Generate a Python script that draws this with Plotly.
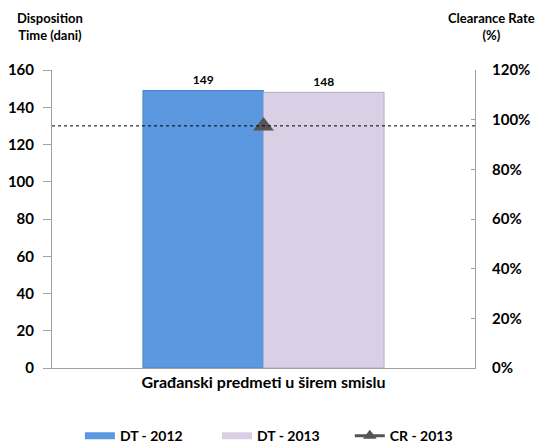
import plotly.graph_objects as go

categories = ["Građanski predmeti u širem smislu"]
dt_2012 = [149]
dt_2013 = [148]
cr_2013 = [97.5]

left_ticks = [0, 20, 40, 60, 80, 100, 120, 140, 160]
right_ticks = [0, 20, 40, 60, 80, 100, 120]
right_labels = [f"{v}%" for v in right_ticks]

FONT = "Lato"
BLUE = "#5b98df"
LAV = "#d9d0e6"
GRAY = "#555555"

fig = go.Figure()
fig.add_trace(go.Bar(
    name="DT - 2012", x=categories, y=dt_2012, showlegend=False,
    marker=dict(color=BLUE, line=dict(color="#4a84c6", width=1)),
    text=[str(v) for v in dt_2012], textposition="outside",
    textfont=dict(family=FONT, size=12, color="#000000", weight="bold"),
    cliponaxis=False,
))
fig.add_trace(go.Bar(
    name="DT - 2013", x=categories, y=dt_2013, showlegend=False,
    marker=dict(color=LAV, line=dict(color="#b5adc2", width=1)),
    text=[str(v) for v in dt_2013], textposition="outside",
    textfont=dict(family=FONT, size=12, color="#000000", weight="bold"),
    cliponaxis=False,
))
fig.add_trace(go.Scatter(
    name="CR - 2013", x=categories, y=cr_2013, yaxis="y2",
    mode="lines+markers", showlegend=False,
    line=dict(color=GRAY, width=3),
    marker=dict(symbol="triangle-up", size=18, color=GRAY),
))

# legend entries (wide flat swatches like the reference)
fig.add_trace(go.Scatter(name="DT - 2012", x=[None], y=[None], mode="lines",
                         line=dict(color=BLUE, width=7), legend="legend"))
fig.add_trace(go.Scatter(name="DT - 2013", x=[None], y=[None], mode="lines",
                         line=dict(color=LAV, width=7), legend="legend2"))
fig.add_trace(go.Scatter(name="CR - 2013", x=[None], y=[None], mode="lines+markers",
                         line=dict(color=GRAY, width=3),
                         marker=dict(symbol="triangle-up", size=12, color=GRAY),
                         legend="legend3"))

fig.add_shape(type="line", xref="paper", x0=0, x1=1, yref="y2",
              y0=cr_2013[0], y1=cr_2013[0],
              line=dict(color="#000000", width=1, dash="dot"))

legend_style = dict(orientation="h", xanchor="left", y=-0.175, yanchor="top",
                    font=dict(family=FONT, size=14, color="#000000", weight="bold"),
                    itemwidth=30, bgcolor="rgba(0,0,0,0)")

fig.update_layout(
    width=536, height=437,
    margin=dict(l=44, r=69, t=62, b=77, autoexpand=False),
    plot_bgcolor="white", paper_bgcolor="white",
    barmode="group", bargap=0.43, bargroupgap=0,
    font=dict(family=FONT, color="#000000"),
    showlegend=True,
    legend=dict(x=0.066, **legend_style),
    legend2=dict(x=0.390, **legend_style),
    legend3=dict(x=0.704, **legend_style),
    xaxis=dict(
        showline=True, linecolor="#a0a0a0", linewidth=1, automargin=False,
        ticks="", tickfont=dict(family=FONT, size=16, color="#000000", weight="bold"),
        range=[-0.5, 0.5],
    ),
    yaxis=dict(
        range=[0, 160], tickvals=left_ticks, automargin=False,
        showline=True, linecolor="#a0a0a0", linewidth=1,
        ticks="outside", ticklen=8, tickcolor="#a0a0a0", ticklabelstandoff=6,
        showgrid=False, zeroline=False,
        tickfont=dict(family=FONT, size=15, color="#000000", weight="bold"),
    ),
    yaxis2=dict(
        range=[0, 120], tickvals=right_ticks, ticktext=right_labels,
        overlaying="y", side="right", automargin=False,
        showline=True, linecolor="#a0a0a0", linewidth=1,
        ticks="inside", ticklen=4, tickcolor="#a0a0a0", ticklabelstandoff=13,
        showgrid=False, zeroline=False,
        tickfont=dict(family=FONT, size=15, color="#000000", weight="bold"),
    ),
    annotations=[
        dict(text="Disposition<br>Time (dani)", xref="paper", yref="paper",
             x=-0.005, y=1.145, xanchor="center", yanchor="middle", showarrow=False,
             font=dict(family=FONT, size=13, color="#000000", weight="bold")),
        dict(text="Clearance Rate<br>(%)", xref="paper", yref="paper",
             x=1.04, y=1.145, xanchor="center", yanchor="middle", showarrow=False,
             font=dict(family=FONT, size=13, color="#000000", weight="bold")),
    ],
)

fig.write_html("out.html")
